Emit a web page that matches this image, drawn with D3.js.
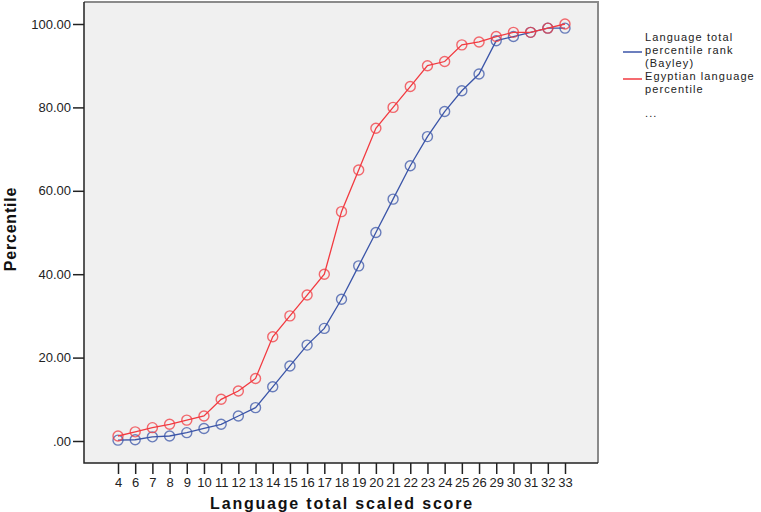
<!DOCTYPE html>
<html>
<meta charset="utf-8">
<style>
    body { margin: 0; background: #fff; }
    text { font-family: "Liberation Sans", Arial, sans-serif; }
    .tick text { font-size: 13px; fill: #222; }
    .title { font-size: 16px; font-weight: bold; fill: #111; }
    .legend text { font-size: 11px; letter-spacing: 1.1px; fill: #222; }
</style>

<body>
    <script src="https://d3js.org/d3.v7.min.js"></script>
    <script>

        var width = 761,
            height = 512;

        // x categories (scaled scores) and the two percentile series
        var scores = ["4", "6", "7", "8", "9", "10", "11", "12", "13", "14", "15", "16", "17", "18", "19",
            "20", "21", "22", "23", "24", "25", "26", "29", "30", "31", "32", "33"];
        var bayley = [0.2, 0.3, 1, 1.2, 2, 3, 4, 6, 8, 13, 18, 23, 27, 34, 42,
            50, 58, 66, 73, 79, 84, 88, 96, 97, 98, 99, 99];
        var egyptian = [1.2, 2.2, 3.2, 4, 5, 6, 10, 12, 15, 25, 30, 35, 40, 55, 65,
            75, 80, 85, 90, 91, 95, 95.7, 97, 98, 98, 99, 100];
        var yTicks = [0, 20, 40, 60, 80, 100];

        var series = [
            { name: ["Language total", "percentile rank", "(Bayley)"], color: "#3b55a8", values: bayley },
            { name: ["Egyptian language", "percentile"], color: "#f23a40", values: egyptian }
        ];

        var plot = { left: 84, top: 2, right: 598, bottom: 463 };

        var svg = d3.select("body").append("svg")
            .attr("width", width)
            .attr("height", height);

        var x = d3.scalePoint()
            .domain(scores)
            .range([118, 565]);

        var y = d3.scaleLinear()
            .domain([0, 100])
            .range([441, 24]);

        // plot background + frame
        svg.append("rect")
            .attr("x", plot.left).attr("y", plot.top)
            .attr("width", plot.right - plot.left).attr("height", plot.bottom - plot.top)
            .attr("fill", "#f0f0f0");
        svg.append("path")
            .attr("d", "M" + plot.left + "," + plot.top + "H" + plot.right + "V" + plot.bottom)
            .attr("fill", "none").attr("stroke", "#8a8a8a").attr("stroke-width", 2);

        var gx = svg.append("g")
            .attr("transform", "translate(0," + plot.bottom + ")")
            .call(d3.axisBottom(x).tickSize(11).tickPadding(4));
        gx.select(".domain").remove();
        gx.selectAll(".tick line").attr("stroke", "#222").attr("stroke-width", 1.5);

        var gy = svg.append("g")
            .attr("transform", "translate(" + plot.left + ",0)")
            .call(d3.axisLeft(y).tickValues(yTicks).tickSize(11).tickPadding(2)
                .tickFormat(function (d) { return d === 0 ? ".00" : d3.format(".2f")(d); }));
        gy.select(".domain").remove();
        gy.selectAll(".tick line").attr("stroke", "#222").attr("stroke-width", 1.5);

        svg.append("path")
            .attr("d", "M" + plot.left + "," + plot.top + "V" + plot.bottom + "H" + plot.right)
            .attr("fill", "none").attr("stroke", "#222").attr("stroke-width", 1.5);

        var line = d3.line()
            .x(function (d, i) { return x(scores[i]); })
            .y(function (d) { return y(d); });

        series.forEach(function (s) {
            svg.append("path")
                .datum(s.values)
                .attr("fill", "none")
                .attr("stroke", s.color)
                .attr("stroke-width", 1.3)
                .attr("d", line);

            svg.selectAll(null)
                .data(s.values)
                .enter().append("circle")
                .attr("cx", function (d, i) { return x(scores[i]); })
                .attr("cy", function (d) { return y(d); })
                .attr("r", 5)
                .attr("fill", "none")
                .attr("stroke", s.color)
                .attr("stroke-opacity", 0.75)
                .attr("stroke-width", 1.4);
        });

        // axis titles
        svg.append("text")
            .attr("class", "title")
            .attr("x", 342).attr("y", 509)
            .attr("text-anchor", "middle")
            .attr("letter-spacing", "1.8px")
            .text("Language total scaled score");

        svg.append("text")
            .attr("class", "title")
            .attr("transform", "translate(16,229) rotate(-90)")
            .attr("text-anchor", "middle")
            .attr("letter-spacing", "0.8px")
            .text("Percentile");

        // legend
        var legend = svg.append("g").attr("class", "legend");
        var rows = [["Language total", 37], ["percentile rank", 50], ["(Bayley)", 63],
            ["Egyptian language", 76], ["percentile", 89]];
        legend.selectAll("text.row")
            .data(rows)
            .enter().append("text")
            .attr("class", "row")
            .attr("x", 645)
            .attr("y", function (d) { return d[1] + 4; })
            .text(function (d) { return d[0]; });
        legend.append("text").attr("x", 645).attr("y", 117).text("...");

        legend.selectAll("line")
            .data(series)
            .enter().append("line")
            .attr("x1", 623).attr("x2", 642)
            .attr("y1", function (d, i) { return i === 0 ? 52 : 79; })
            .attr("y2", function (d, i) { return i === 0 ? 52 : 79; })
            .attr("stroke", function (d) { return d.color; })
            .attr("stroke-width", 1.5);

    </script>

</body>
</html>
